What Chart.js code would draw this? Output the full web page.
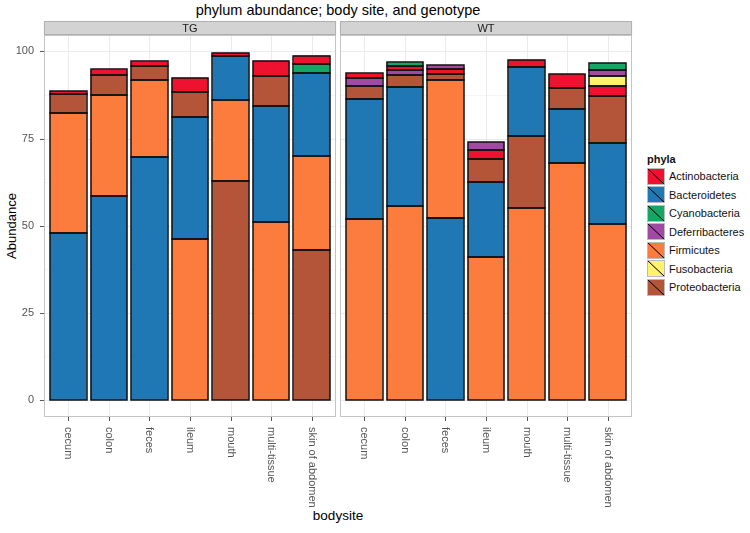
<!DOCTYPE html>
<html>
<head>
<meta charset="utf-8">
<script src="https://cdn.jsdelivr.net/npm/chart.js@4.4.1/dist/chart.umd.min.js"></script>
<style>
  body { margin: 0; background: #fff; font-family: "Liberation Sans", Arial, sans-serif; }
  #wrap { position: relative; width: 750px; height: 533px; overflow: hidden; background: #fff; }
  #wrap canvas { position: absolute; top: 0; }
  #title { position: absolute; left: 0; width: 676px; top: 2px; text-align: center; font-size: 14.5px; color: #000; }
  #ylab { position: absolute; left: 11px; top: 226px; transform: translate(-50%, -50%) rotate(-90deg); font-size: 13px; white-space: nowrap; }
  #xlab { position: absolute; left: 338px; top: 515px; transform: translate(-50%, -50%); font-size: 13.5px; }
  #legend { position: absolute; left: 647px; top: 153px; font-size: 11px; color: #111; }
  #legend .lt { font-weight: bold; height: 14px; }
  #legend .li { height: 18.5px; display: flex; align-items: center; }
  #legend .sw { display: inline-block; width: 18px; height: 17px; margin-right: 4px; box-sizing: border-box; border: 1px solid #bbb; }
</style>
</head>
<body>
<div id="wrap">
  <div id="title">phylum abundance; body site, and genotype</div>
  <div id="ylab">Abundance</div>
  <div id="xlab">bodysite</div>
  <canvas id="tg" width="338" height="533" style="left:0"></canvas>
  <canvas id="wt" width="302" height="533" style="left:338px"></canvas>
  <div id="legend"></div>
</div>
<script>
const bodysites = ['cecum', 'colon', 'feces', 'ileum', 'mouth', 'multi-tissue', 'skin of abdomen'];
const phyla = ['Actinobacteria', 'Bacteroidetes', 'Cyanobacteria', 'Deferribacteres', 'Firmicutes', 'Fusobacteria', 'Proteobacteria'];
const phylaColors = ['#ee1130', '#1f78b4', '#17a566', '#a04aa4', '#fb7c3c', '#fff36e', '#b4553a'];
const yTicks = [0, 25, 50, 75, 100];

// TG genotype, one value per bodysite
const tgActinobacteria = [0.9, 1.6, 1.3, 4.1, 1.0, 4.5, 2.5];
const tgBacteroidetes = [47.9, 58.4, 69.8, 35.0, 12.5, 33.3, 23.8];
const tgCyanobacteria = [0, 0, 0, 0, 0, 0, 2.6];
const tgDeferribacteres = [0, 0, 0, 0, 0, 0, 0];
const tgFirmicutes = [34.4, 29.1, 22.1, 46.2, 23.3, 51.1, 26.8];
const tgFusobacteria = [0, 0, 0, 0, 0, 0, 0];
const tgProteobacteria = [5.4, 5.8, 4.0, 7.1, 62.8, 8.4, 43.1];

// WT genotype
const wtActinobacteria = [1.4, 1.1, 1.4, 2.6, 2.2, 4.1, 2.9];
const wtBacteroidetes = [34.5, 34.2, 52.2, 21.5, 19.7, 15.5, 23.3];
const wtCyanobacteria = [0, 1.0, 0, 0, 0, 0, 1.9];
const wtDeferribacteres = [2.1, 1.5, 1.1, 2.3, 0, 0, 2.0];
const wtFirmicutes = [51.9, 55.7, 39.5, 40.9, 55.0, 67.9, 50.4];
const wtFusobacteria = [0, 0, 0, 0, 0, 0, 2.8];
const wtProteobacteria = [3.8, 3.4, 1.9, 6.7, 20.7, 6.0, 13.4];

const Y_MIN = -4.9, Y_MAX = 104.7;

Chart.defaults.font.family = '"Liberation Sans", Arial, sans-serif';

// bars are stacked largest at the bottom, so one dataset per rank
function rankedDatasets(series) {
  const order = bodysites.map((_, i) =>
    phyla.map((_, p) => p)
      .filter(p => series[p][i] > 0)
      .sort((a, b) => series[b][i] - series[a][i] || a - b));
  return phyla.map((_, r) => ({
    label: 'rank ' + r,
    data: bodysites.map((_, i) => order[i][r] !== undefined ? series[order[i][r]][i] : null),
    backgroundColor: bodysites.map((_, i) => order[i][r] !== undefined ? phylaColors[order[i][r]] : 'transparent'),
    borderWidth: 0,
    categoryPercentage: 1,
    barPercentage: 0.9
  }));
}

// ggplot-style panel: strip, grid, border, ticks and rotated x labels
const facetPanel = {
  id: 'facetPanel',
  beforeDatasetsDraw(chart, args, opts) {
    const { ctx, chartArea: a, scales: { x, y } } = chart;
    const pad = (a.right - a.left) / bodysites.length * 0.1;
    const left = a.left - pad, right = a.right + pad;
    const top = a.top, bottom = a.bottom;
    ctx.save();
    ctx.fillStyle = '#fff';
    ctx.fillRect(left, top, right - left, bottom - top);
    ctx.lineWidth = 1;
    ctx.strokeStyle = '#f5f5f5';
    for (let i = 0; i < yTicks.length - 1; i++) {
      const py = Math.round(y.getPixelForValue((yTicks[i] + yTicks[i + 1]) / 2)) + 0.5;
      ctx.beginPath(); ctx.moveTo(left, py); ctx.lineTo(right, py); ctx.stroke();
    }
    ctx.strokeStyle = '#ebebeb';
    yTicks.forEach(v => {
      const py = Math.round(y.getPixelForValue(v)) + 0.5;
      ctx.beginPath(); ctx.moveTo(left, py); ctx.lineTo(right, py); ctx.stroke();
    });
    bodysites.forEach((s, i) => {
      const px = Math.round(x.getPixelForValue(i)) + 0.5;
      ctx.beginPath(); ctx.moveTo(px, top); ctx.lineTo(px, bottom); ctx.stroke();
    });
    // strip
    ctx.fillStyle = '#d3d3d3';
    ctx.fillRect(left, top - 14, right - left, 14);
    ctx.strokeStyle = '#b0b0b0';
    ctx.strokeRect(left + 0.5, top - 13.5, right - left - 1, 13);
    ctx.fillStyle = '#1a1a1a';
    ctx.font = '11px "Liberation Sans", Arial, sans-serif';
    ctx.textAlign = 'center';
    ctx.textBaseline = 'middle';
    ctx.fillText(opts.label, (left + right) / 2, top - 6.5);
    // x ticks and labels
    ctx.strokeStyle = '#555';
    ctx.fillStyle = '#555';
    bodysites.forEach((s, i) => {
      const px = Math.round(x.getPixelForValue(i)) + 0.5;
      ctx.beginPath(); ctx.moveTo(px, bottom); ctx.lineTo(px, bottom + 4); ctx.stroke();
      ctx.save();
      ctx.translate(px, bottom + 10);
      ctx.rotate(Math.PI / 2);
      ctx.textAlign = 'left';
      ctx.fillText(s, 0, 0);
      ctx.restore();
    });
    if (opts.yAxis) {
      yTicks.forEach(v => {
        const py = Math.round(y.getPixelForValue(v)) + 0.5;
        ctx.beginPath(); ctx.moveTo(left - 4, py); ctx.lineTo(left, py); ctx.stroke();
      });
    }
    ctx.restore();
  },
  afterDatasetsDraw(chart) {
    const { ctx, chartArea: a } = chart;
    // black outline round every stacked segment, snapped to whole pixels
    ctx.save();
    ctx.strokeStyle = '#111';
    ctx.lineWidth = 1.5;
    chart.data.datasets.forEach((ds, d) => {
      chart.getDatasetMeta(d).data.forEach((el, i) => {
        if (ds.data[i] == null) return;
        const { x, y, base, width } = el.getProps(['x', 'y', 'base', 'width'], true);
        const l = Math.round(x - width / 2), r = Math.round(x + width / 2);
        const t = Math.round(y), b = Math.round(base);
        ctx.strokeRect(l, t, r - l, b - t);
      });
    });
    const pad = (a.right - a.left) / bodysites.length * 0.1;
    ctx.strokeStyle = '#c4c4c4';
    ctx.lineWidth = 1;
    ctx.strokeRect(Math.round(a.left - pad) + 0.5, a.top + 0.5, Math.round(a.right - a.left + 2 * pad) - 1, a.bottom - a.top - 1);
    ctx.restore();
  }
};

function makeChart(id, series, label, showY, padding) {
  return new Chart(document.getElementById(id), {
    type: 'bar',
    data: { labels: bodysites, datasets: rankedDatasets(series) },
    plugins: [facetPanel],
    options: {
      responsive: false,
      animation: false,
      events: [],
      layout: { padding: padding },
      plugins: {
        legend: { display: false },
        tooltip: { enabled: false },
        facetPanel: { label: label, yAxis: showY }
      },
      scales: {
        x: { stacked: true, display: false, offset: true },
        y: {
          stacked: true,
          display: showY,
          min: Y_MIN,
          max: Y_MAX,
          afterBuildTicks: scale => { scale.ticks = yTicks.map(v => ({ value: v })); },
          afterFit: scale => { if (showY) scale.width = 48; },
          grid: { display: false, drawTicks: false },
          border: { display: false },
          ticks: { padding: 14, color: '#555', font: { size: 11 } }
        }
      }
    }
  });
}

makeChart('tg', [tgActinobacteria, tgBacteroidetes, tgCyanobacteria, tgDeferribacteres, tgFirmicutes, tgFusobacteria, tgProteobacteria],
  'TG', true, { left: 0, right: 6, top: 35, bottom: 116 });
makeChart('wt', [wtActinobacteria, wtBacteroidetes, wtCyanobacteria, wtDeferribacteres, wtFirmicutes, wtFusobacteria, wtProteobacteria],
  'WT', false, { left: 6, right: 12, top: 35, bottom: 116 });

document.getElementById('legend').innerHTML =
  '<div class="lt">phyla</div>' +
  phyla.map((p, i) =>
    `<div class="li"><span class="sw" style="background:linear-gradient(to top right, transparent calc(50% - 0.8px), #000 50%, transparent calc(50% + 0.8px)), ${phylaColors[i]}"></span>${p}</div>`
  ).join('');
</script>
</body>
</html>
